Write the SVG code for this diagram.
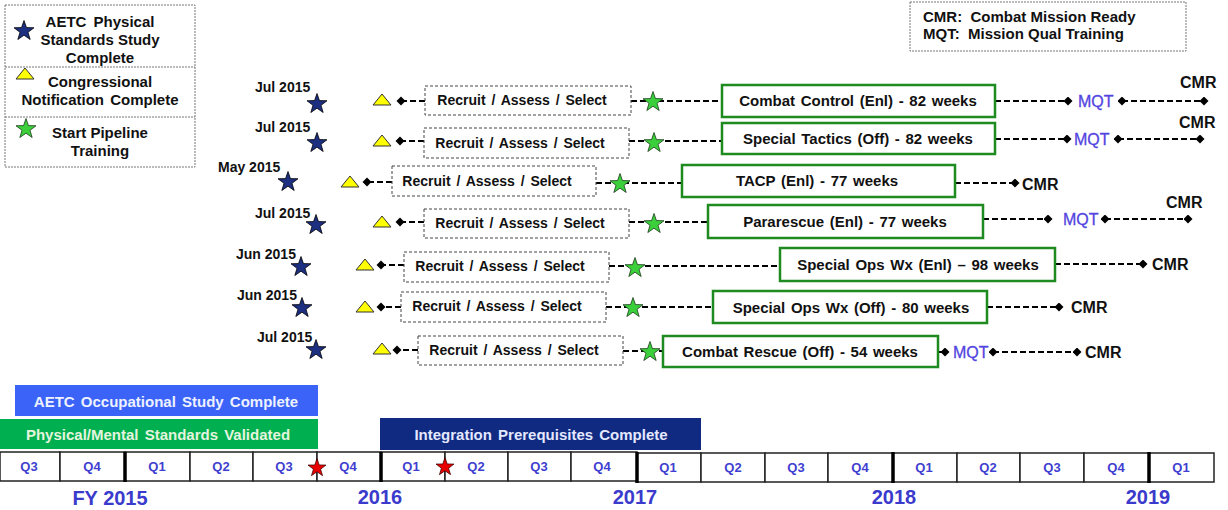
<svg xmlns="http://www.w3.org/2000/svg" xmlns:xlink="http://www.w3.org/1999/xlink" width="1228" height="510" viewBox="0 0 1228 510">
<style>
text{font-family:"Liberation Sans",Arial,sans-serif;font-weight:bold;fill:#111;}
.lg{font-size:15px;}
.pre{white-space:pre;}
.dt{font-size:14px;}
.rb{fill:#fff;stroke:#444;stroke-width:1;stroke-dasharray:3,2;}
.gb{fill:#fff;stroke:#1f8a1f;stroke-width:2.5;}
.rt{font-size:14px;text-anchor:middle;word-spacing:2px;}
.gt{font-size:15px;text-anchor:middle;word-spacing:1.5px;}
.dl{fill:none;stroke:#000;stroke-width:2;stroke-dasharray:6,3;}
.mqt{font-size:16px;font-weight:normal;fill:#5244e0;stroke:#5244e0;stroke-width:0.3;}
.cmr{font-size:16px;}
.cell{fill:#fff;stroke:#222;stroke-width:1.5;}
.yr{stroke:#000;stroke-width:3.5;}
.q{font-size:13px;fill:#3f3fd0;text-anchor:middle;}
.fy{font-size:20px;fill:#3a3acc;text-anchor:middle;}
.bt{font-size:15px;text-anchor:middle;word-spacing:2px;}
.bs{fill:#1c2f80;stroke:#000;stroke-width:0.8;}
.gs{fill:#3ccf3c;stroke:#1a3a1a;stroke-width:0.8;}
.rs{fill:#e80000;stroke:#300;stroke-width:0.8;}
.tri{fill:#ffff00;stroke:#333;stroke-width:1;}
</style>
<defs>
<path id="star" d="M0,-10.5 L2.45,-3.4 L10,-3.25 L4,1.3 L6.17,8.5 L0,4.2 L-6.17,8.5 L-4,1.3 L-10,-3.25 L-2.45,-3.4 Z"/>
<path id="tri" d="M0,-6 L9,5 L-9,5 Z"/>
<marker id="dia" markerUnits="userSpaceOnUse" markerWidth="10" markerHeight="10" refX="4.5" refY="4.5" orient="auto">
<path d="M0,4.5 L4.5,0 L9,4.5 L4.5,9 Z" fill="#000"/>
</marker>
</defs>
<rect width="1228" height="510" fill="#fff"/>

<!-- Legend -->
<g id="legend">
<rect x="5" y="5" width="190" height="162" fill="#fff" stroke="#777" stroke-width="1" stroke-dasharray="2,1"/>
<line x1="5" y1="67" x2="195" y2="67" stroke="#777" stroke-width="1" stroke-dasharray="2,1"/>
<line x1="5" y1="117" x2="195" y2="117" stroke="#777" stroke-width="1" stroke-dasharray="2,1"/>
<use href="#star" class="bs" transform="translate(24,31)"/>
<text class="lg" x="100" y="27" text-anchor="middle" word-spacing="3">AETC Physical</text>
<text class="lg" x="100" y="45" text-anchor="middle">Standards Study</text>
<text class="lg" x="100" y="63" text-anchor="middle">Complete</text>
<use href="#tri" class="tri" transform="translate(25,74)"/>
<text class="lg" x="100" y="87" text-anchor="middle">Congressional</text>
<text class="lg" x="100" y="105" text-anchor="middle" word-spacing="2">Notification Complete</text>
<use href="#star" class="gs" transform="translate(26,129)"/>
<text class="lg" x="100" y="138" text-anchor="middle">Start Pipeline</text>
<text class="lg" x="100" y="156" text-anchor="middle">Training</text>
</g>

<g id="abbrev">
<rect x="910" y="2" width="276" height="49" fill="#fff" stroke="#777" stroke-width="1" stroke-dasharray="2,1"/>
<text class="lg pre" x="923" y="22">CMR:  Combat Mission Ready</text>
<text class="lg pre" x="923" y="39">MQT:  Mission Qual Training</text>
</g>

<!-- Connectors -->
<g id="connectors">
<!-- row1 -->
<path class="dl" d="M425,101 H401" marker-end="url(#dia)"/>
<path class="dl" d="M631,101 H722"/>
<path class="dl" d="M995,101 H1068" marker-end="url(#dia)"/>
<path class="dl" d="M1122,101 H1204" marker-start="url(#dia)" marker-end="url(#dia)"/>
<!-- row2 -->
<path class="dl" d="M424,141 H400" marker-end="url(#dia)"/>
<path class="dl" d="M629,141 H722"/>
<path class="dl" d="M995,139 H1067" marker-end="url(#dia)"/>
<path class="dl" d="M1118,139 H1200" marker-start="url(#dia)" marker-end="url(#dia)"/>
<!-- row3 -->
<path class="dl" d="M392,182 H367" marker-end="url(#dia)"/>
<path class="dl" d="M596,183 H682"/>
<path class="dl" d="M955,183 H1015" marker-end="url(#dia)"/>
<!-- row4 -->
<path class="dl" d="M424,222 H400" marker-end="url(#dia)"/>
<path class="dl" d="M629,222 H708"/>
<path class="dl" d="M983,219 H1048" marker-end="url(#dia)"/>
<path class="dl" d="M1105,219 H1188" marker-start="url(#dia)" marker-end="url(#dia)"/>
<!-- row5 -->
<path class="dl" d="M404,265 H381" marker-end="url(#dia)"/>
<path class="dl" d="M609,266 H780"/>
<path class="dl" d="M1055,264 H1143" marker-end="url(#dia)"/>
<!-- row6 -->
<path class="dl" d="M401,307 H381" marker-end="url(#dia)"/>
<path class="dl" d="M606,307 H713"/>
<path class="dl" d="M987,307 H1059" marker-end="url(#dia)"/>
<!-- row7 -->
<path class="dl" d="M418,350 H397" marker-end="url(#dia)"/>
<path class="dl" d="M623,351 H663"/>
<path class="dl" d="M938,352 H945" marker-end="url(#dia)"/>
<path class="dl" d="M993,352 H1077" marker-start="url(#dia)" marker-end="url(#dia)"/>
</g>

<!-- Row 1 -->
<g id="row1-start"><text class="dt" x="255" y="92">Jul 2015</text><use href="#star" class="bs" transform="translate(317,104)"/></g>
<g id="row1-notify"><use href="#tri" class="tri" transform="translate(382,100)"/></g>
<g id="row1-recruit"><rect class="rb" x="425" y="86" width="206" height="29"/><text class="rt" x="522" y="105">Recruit / Assess / Select</text></g>
<g id="row1-pipeline"><use href="#star" class="gs" transform="translate(653,102)"/></g>
<g id="row1-course"><rect class="gb" x="722" y="85" width="273" height="32"/><text class="gt" x="858" y="106">Combat Control (Enl) - 82 weeks</text></g>
<g id="row1-mqt"><text class="mqt" x="1078" y="107">MQT</text></g>
<g id="row1-cmr"><text class="cmr" x="1180" y="88">CMR</text></g>

<!-- Row 2 -->
<g id="row2-start"><text class="dt" x="255" y="132">Jul 2015</text><use href="#star" class="bs" transform="translate(317,143)"/></g>
<g id="row2-notify"><use href="#tri" class="tri" transform="translate(382,141)"/></g>
<g id="row2-recruit"><rect class="rb" x="424" y="128" width="205" height="30"/><text class="rt" x="520" y="148">Recruit / Assess / Select</text></g>
<g id="row2-pipeline"><use href="#star" class="gs" transform="translate(654,143)"/></g>
<g id="row2-course"><rect class="gb" x="722" y="123" width="273" height="31"/><text class="gt" x="858" y="144">Special Tactics (Off) - 82 weeks</text></g>
<g id="row2-mqt"><text class="mqt" x="1074" y="145">MQT</text></g>
<g id="row2-cmr"><text class="cmr" x="1179" y="128">CMR</text></g>

<!-- Row 3 -->
<g id="row3-start"><text class="dt" x="218" y="172">May 2015</text><use href="#star" class="bs" transform="translate(288,182)"/></g>
<g id="row3-notify"><use href="#tri" class="tri" transform="translate(350,182)"/></g>
<g id="row3-recruit"><rect class="rb" x="392" y="166" width="204" height="30"/><text class="rt" x="487" y="186">Recruit / Assess / Select</text></g>
<g id="row3-pipeline"><use href="#star" class="gs" transform="translate(620,184)"/></g>
<g id="row3-course"><rect class="gb" x="682" y="165" width="273" height="32"/><text class="gt" x="817" y="186">TACP (Enl) - 77 weeks</text></g>
<g id="row3-cmr"><text class="cmr" x="1022" y="190">CMR</text></g>

<!-- Row 4 -->
<g id="row4-start"><text class="dt" x="255" y="218">Jul 2015</text><use href="#star" class="bs" transform="translate(316,225)"/></g>
<g id="row4-notify"><use href="#tri" class="tri" transform="translate(382,222)"/></g>
<g id="row4-recruit"><rect class="rb" x="424" y="209" width="205" height="29"/><text class="rt" x="520" y="228">Recruit / Assess / Select</text></g>
<g id="row4-pipeline"><use href="#star" class="gs" transform="translate(654,224)"/></g>
<g id="row4-course"><rect class="gb" x="708" y="205" width="275" height="33"/><text class="gt" x="845" y="227">Pararescue (Enl) - 77 weeks</text></g>
<g id="row4-mqt"><text class="mqt" x="1063" y="225">MQT</text></g>
<g id="row4-cmr"><text class="cmr" x="1166" y="208">CMR</text></g>

<!-- Row 5 -->
<g id="row5-start"><text class="dt" x="236" y="259">Jun 2015</text><use href="#star" class="bs" transform="translate(301,267)"/></g>
<g id="row5-notify"><use href="#tri" class="tri" transform="translate(365,265)"/></g>
<g id="row5-recruit"><rect class="rb" x="404" y="252" width="205" height="30"/><text class="rt" x="500" y="271">Recruit / Assess / Select</text></g>
<g id="row5-pipeline"><use href="#star" class="gs" transform="translate(635,268)"/></g>
<g id="row5-course"><rect class="gb" x="780" y="248" width="275" height="33"/><text class="gt" x="918" y="270">Special Ops Wx (Enl) – 98 weeks</text></g>
<g id="row5-cmr"><text class="cmr" x="1152" y="270">CMR</text></g>

<!-- Row 6 -->
<g id="row6-start"><text class="dt" x="237" y="300">Jun 2015</text><use href="#star" class="bs" transform="translate(302,308)"/></g>
<g id="row6-notify"><use href="#tri" class="tri" transform="translate(365,307)"/></g>
<g id="row6-recruit"><rect class="rb" x="401" y="292" width="205" height="30"/><text class="rt" x="497" y="311">Recruit / Assess / Select</text></g>
<g id="row6-pipeline"><use href="#star" class="gs" transform="translate(633,308)"/></g>
<g id="row6-course"><rect class="gb" x="713" y="291" width="274" height="32"/><text class="gt" x="851" y="313">Special Ops Wx (Off) - 80 weeks</text></g>
<g id="row6-cmr"><text class="cmr" x="1071" y="313">CMR</text></g>

<!-- Row 7 -->
<g id="row7-start"><text class="dt" x="257" y="342">Jul 2015</text><use href="#star" class="bs" transform="translate(316,350)"/></g>
<g id="row7-notify"><use href="#tri" class="tri" transform="translate(382,349)"/></g>
<g id="row7-recruit"><rect class="rb" x="418" y="336" width="205" height="29"/><text class="rt" x="514" y="355">Recruit / Assess / Select</text></g>
<g id="row7-pipeline"><use href="#star" class="gs" transform="translate(650,352)"/></g>
<g id="row7-course"><rect class="gb" x="663" y="336" width="275" height="31"/><text class="gt" x="800" y="357">Combat Rescue (Off) - 54 weeks</text></g>
<g id="row7-mqt"><text class="mqt" x="953" y="358">MQT</text></g>
<g id="row7-cmr"><text class="cmr" x="1085" y="358">CMR</text></g>

<!-- Bars -->
<g id="bar-occupational"><rect x="15" y="385" width="303" height="31" fill="#3b63f7"/><text class="bt" x="166" y="407" style="fill:#eef2ff">AETC Occupational Study Complete</text></g>
<g id="bar-standards"><rect x="0" y="419" width="318" height="30" fill="#00b050"/><text class="bt" x="158" y="440" style="fill:#e4f4de">Physical/Mental Standards Validated</text></g>
<g id="bar-integration"><rect x="380" y="418" width="321" height="32" fill="#102a82"/><text class="bt" x="541" y="440" style="fill:#e4e8ff">Integration Prerequisites Complete</text></g>

<!-- Timeline -->
<g id="timeline">
<rect class="cell" x="0" y="452" width="60" height="29"/>
<rect class="cell" x="60" y="452" width="65" height="29"/>
<rect class="cell" x="125" y="452" width="65" height="29"/>
<rect class="cell" x="190" y="452" width="63" height="29"/>
<rect class="cell" x="253" y="452" width="64" height="29"/>
<rect class="cell" x="317" y="452" width="64" height="29"/>
<rect class="cell" x="381" y="452" width="64" height="29"/>
<rect class="cell" x="445" y="452" width="63" height="29"/>
<rect class="cell" x="508" y="452" width="63" height="29"/>
<rect class="cell" x="571" y="452" width="66" height="29"/>
<rect class="cell" x="637" y="453" width="64" height="29"/>
<rect class="cell" x="701" y="453" width="64" height="29"/>
<rect class="cell" x="765" y="453" width="63" height="29"/>
<rect class="cell" x="828" y="453" width="65" height="29"/>
<rect class="cell" x="893" y="453" width="64" height="29"/>
<rect class="cell" x="957" y="453" width="63" height="29"/>
<rect class="cell" x="1020" y="453" width="64" height="29"/>
<rect class="cell" x="1084" y="453" width="65" height="29"/>
<rect class="cell" x="1149" y="453" width="65" height="29"/>
<line class="yr" x1="125" y1="452" x2="125" y2="482"/>
<line class="yr" x1="381" y1="452" x2="381" y2="482"/>
<line class="yr" x1="637" y1="452" x2="637" y2="483"/>
<line class="yr" x1="893" y1="452" x2="893" y2="483"/>
<line class="yr" x1="1149" y1="452" x2="1149" y2="483"/>
<text class="q" x="29" y="471">Q3</text>
<text class="q" x="92" y="471">Q4</text>
<text class="q" x="157" y="471">Q1</text>
<text class="q" x="221" y="471">Q2</text>
<text class="q" x="284" y="471">Q3</text>
<text class="q" x="348" y="471">Q4</text>
<text class="q" x="411" y="471">Q1</text>
<text class="q" x="476" y="471">Q2</text>
<text class="q" x="539" y="471">Q3</text>
<text class="q" x="602" y="471">Q4</text>
<text class="q" x="668" y="472">Q1</text>
<text class="q" x="733" y="472">Q2</text>
<text class="q" x="796" y="472">Q3</text>
<text class="q" x="860" y="472">Q4</text>
<text class="q" x="924" y="472">Q1</text>
<text class="q" x="988" y="472">Q2</text>
<text class="q" x="1052" y="472">Q3</text>
<text class="q" x="1116" y="472">Q4</text>
<text class="q" x="1181" y="472">Q1</text>
<use href="#star" class="rs" transform="translate(317,468) scale(0.9)"/>
<use href="#star" class="rs" transform="translate(445,467) scale(0.9)"/>
<text class="fy" x="110" y="505">FY 2015</text>
<text class="fy" x="380" y="504">2016</text>
<text class="fy" x="635" y="504">2017</text>
<text class="fy" x="894" y="504">2018</text>
<text class="fy" x="1148" y="504">2019</text>
</g>
</svg>
